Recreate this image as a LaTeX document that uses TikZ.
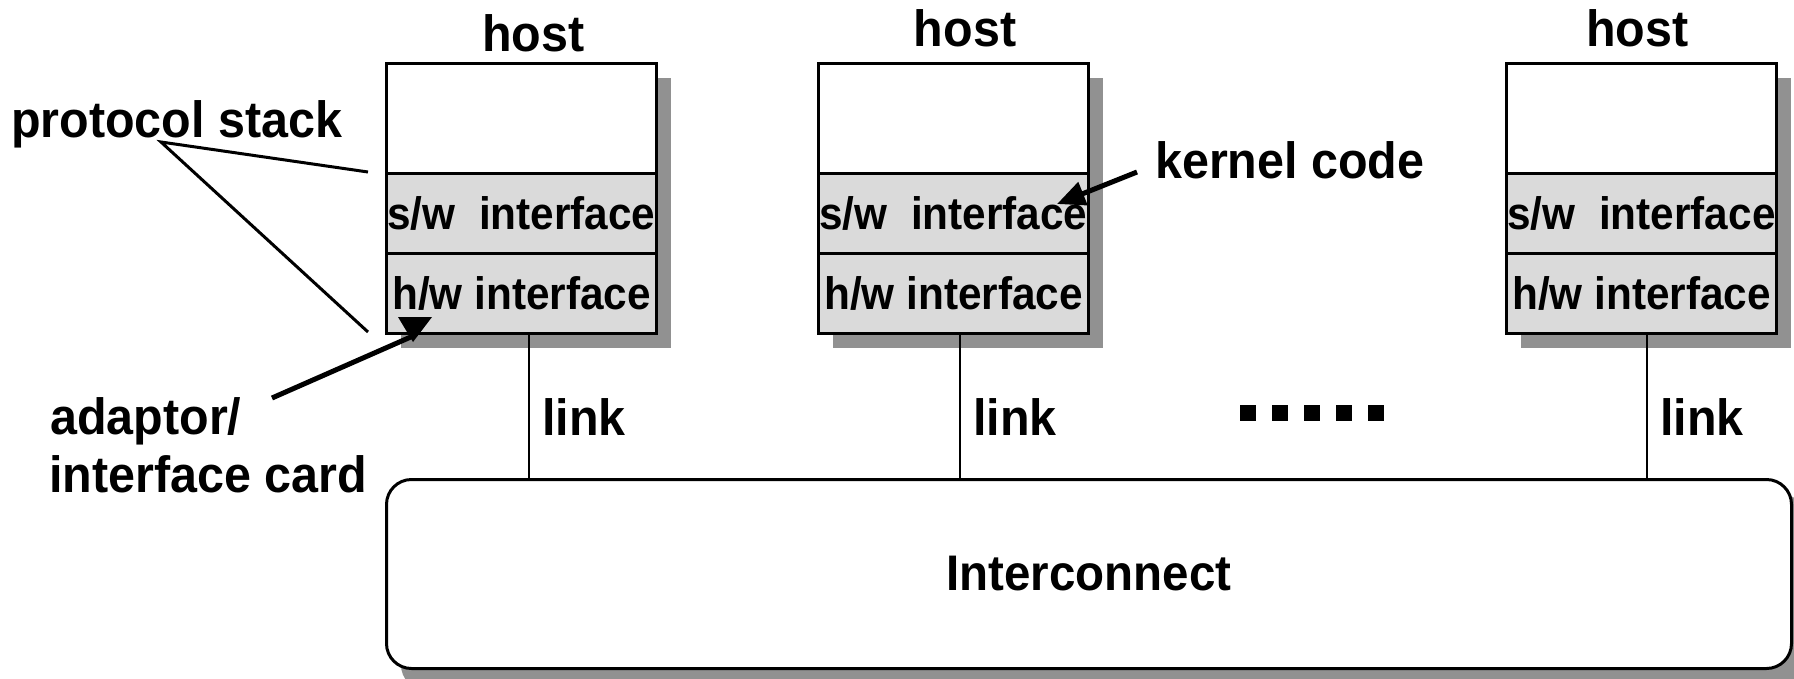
\documentclass[tikz,border=0pt]{standalone}
\usepackage{fontspec}
\setmainfont{Liberation Sans}
\newfontfamily\labfont{Liberation Sans}[FakeStretch=0.95]
\newfontfamily\boxfont{Liberation Sans}[FakeStretch=0.93]
\newfontfamily\icfont{Liberation Sans}[FakeStretch=0.95]
\usetikzlibrary{arrows.meta,calc}
\definecolor{shadowgray}{HTML}{919191}
\definecolor{layergray}{HTML}{DADADA}
\begin{document}
\begin{tikzpicture}[x=1pt,y=-1pt,
  lab/.style={font=\labfont\fontsize{51}{60}\selectfont\bfseries, inner sep=0pt, anchor=base west},
  hostlab/.style={font=\labfont\fontsize{51}{60}\selectfont\bfseries, inner sep=0pt, anchor=base},
  layer/.style={draw, line width=3pt, minimum width=270pt, inner sep=0pt, anchor=north west,
    font=\boxfont\fontsize{45.5}{52}\selectfont\bfseries},
  toplayer/.style={layer, fill=white, minimum height=110pt},
  ifacelayer/.style={layer, fill=layergray, minimum height=80pt},
  linkline/.style={line width=2.5pt},
  pointer/.style={line width=3pt},
  thickarrow/.style={line width=5pt}
]
\useasboundingbox (0,0) rectangle (1794,678);
\clip (0,0) rectangle (1794,678);

% shadows
\fill[shadowgray] (401,78) rectangle (671,348);
\fill[shadowgray] (833,78) rectangle (1103,348);
\fill[shadowgray] (1521,78) rectangle (1791,348);
\fill[shadowgray, rounded corners=25pt] (401,494) rectangle (1806,690);

% interconnect
\node[draw, line width=3pt, fill=white, rounded corners=25pt, minimum width=1405pt,
  minimum height=189pt, inner sep=0pt, anchor=north west,
  font=\icfont\fontsize{50}{58}\selectfont\bfseries] (ic) at (385,478) {Interconnect};

% hosts
\node[toplayer] (top1) at (385,62) {};
\node[ifacelayer] (sw1) at (385,172) {s/w\ \ interface};
\node[ifacelayer] (hw1) at (385,252) {h/w interface};

\node[toplayer] (top2) at (817,62) {};
\node[ifacelayer] (sw2) at (817,172) {s/w\ \ interface};
\node[ifacelayer] (hw2) at (817,252) {h/w interface};

\node[toplayer] (top3) at (1505,62) {};
\node[ifacelayer] (sw3) at (1505,172) {s/w\ \ interface};
\node[ifacelayer] (hw3) at (1505,252) {h/w interface};

\node[hostlab] (host1) at (533.5,51.5) {host};
\node[hostlab] (host2) at (965,46) {host};
\node[hostlab] (host3) at (1637.5,46) {host};

% links
\coordinate (lk1) at (529,0);
\coordinate (lk2) at (960,0);
\coordinate (lk3) at (1647,0);
\draw[linkline] (hw1.south -| lk1) -- (ic.north -| lk1);
\draw[linkline] (hw2.south -| lk2) -- (ic.north -| lk2);
\draw[linkline] (hw3.south -| lk3) -- (ic.north -| lk3);
\node[lab] (link1) at (542,435) {link};
\node[lab] (link2) at (973,435) {link};
\node[lab] (link3) at (1660,435) {link};

% dots
\foreach \i in {0,...,4} \fill (1240+32*\i,405) rectangle ++(16,16);

% labels
\node[lab] (ps) at (11,137) {protocol stack};
\node[lab] (kc) at (1155,178) {kernel code};
\node[lab] (ad1) at (50,434) {adaptor/};
\node[lab] (ad2) at (49,492) {interface card};

% protocol stack pointer
\coordinate (pa) at (161,142);
\coordinate (p1) at (368,172);
\coordinate (p2) at (368,332);
\draw[pointer] (p1) -- (pa) -- (p2);

% kernel code arrow
\coordinate (kt) at (1137,172);
\coordinate (kh) at (1057,204);
\draw[thickarrow, -{Triangle[length=28pt,width=24pt]}] (kt) -- (kh);

% adaptor arrow
\coordinate (at) at (272,398);
\coordinate (ah) at (413,336);
\draw[thickarrow] (at) -- (ah);
\fill (398,317) -- (432,317) -- (413,342) -- cycle;
\end{tikzpicture}
\end{document}
